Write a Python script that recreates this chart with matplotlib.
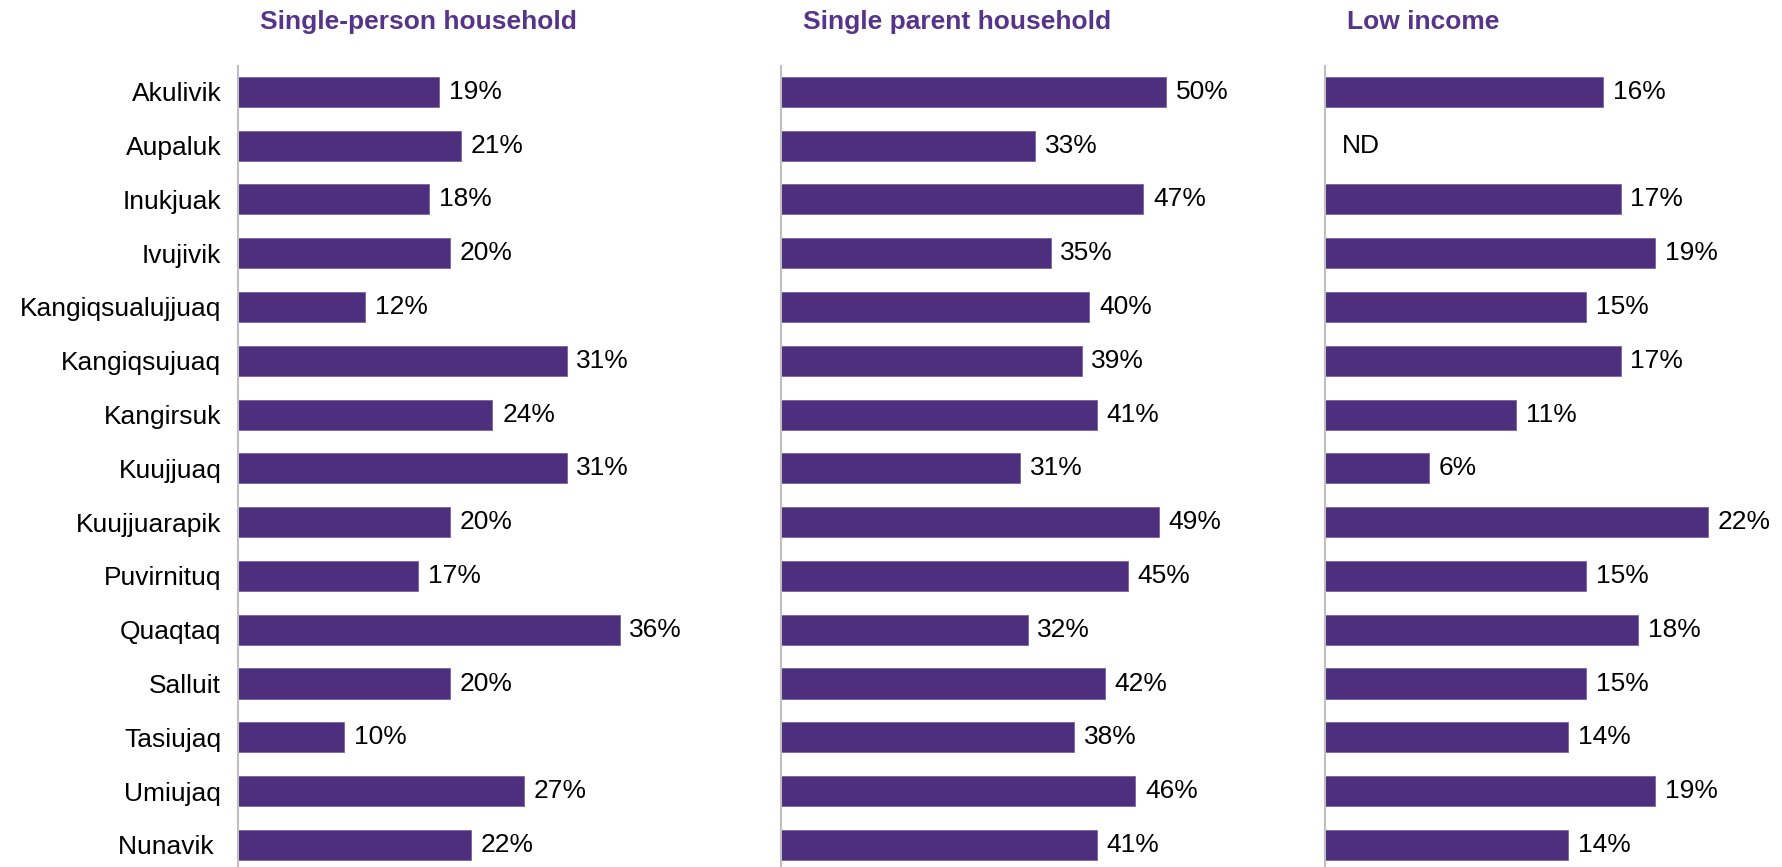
import matplotlib
matplotlib.use("Agg")
import matplotlib.pyplot as plt

plt.rcParams['font.family'] = ['Liberation Sans', 'DejaVu Sans']

communities = ["Akulivik", "Aupaluk", "Inukjuak", "Ivujivik", "Kangiqsualujjuaq",
               "Kangiqsujuaq", "Kangirsuk", "Kuujjuaq", "Kuujjuarapik", "Puvirnituq",
               "Quaqtaq", "Salluit", "Tasiujaq", "Umiujaq", "Nunavik "]
single_person = [19, 21, 18, 20, 12, 31, 24, 31, 20, 17, 36, 20, 10, 27, 22]
single_parent = [50, 33, 47, 35, 40, 39, 41, 31, 49, 45, 32, 42, 38, 46, 41]
low_income = [16, None, 17, 19, 15, 17, 11, 6, 22, 15, 18, 15, 14, 19, 14]
titles = ["Single-person household", "Single parent household", "Low income"]

bar_color = "#4E2F7E"
title_color = "#563489"

W, H = 1783, 867
fig = plt.figure(figsize=(W / 100, H / 100), dpi=100)

# left edge of each panel in pixels, and the x range of each one
lefts = [238, 781, 1325]
xmaxs = [41.5, 57.1, 25.3]
panel_w = 440

for k, (vals, title) in enumerate(zip([single_person, single_parent, low_income], titles)):
    ax = fig.add_axes([lefts[k] / W, 0, panel_w / W, (H - 66) / H])
    ypos = list(range(len(communities)))
    widths = [v if v is not None else 0 for v in vals]
    ax.barh(ypos, widths, height=0.56, color=bar_color, edgecolor="#7B62A3", linewidth=0.6)
    for y, v in zip(ypos, vals):
        txt = "ND" if v is None else f"{v}%"
        off = 12 if v is None else 7
        ax.annotate(txt, (0 if v is None else v, y), xytext=(off, 0), textcoords="offset points",
                    ha="left", va="center", fontsize=19, color="black")
    ax.set_xlim(0, xmaxs[k])
    ax.set_ylim(len(communities) - 1 + 0.41, -0.48)
    for s in ["top", "right", "bottom"]:
        ax.spines[s].set_visible(False)
    ax.spines["left"].set_color("#BFBFBF")
    ax.spines["left"].set_linewidth(1.5)
    ax.set_xticks([])
    ax.set_yticks(ypos)
    if k == 0:
        ax.set_yticklabels(communities, fontsize=19)
        ax.tick_params(axis="y", length=0, pad=12)
    else:
        ax.set_yticklabels([])
        ax.tick_params(axis="y", length=0)
    fig.text((lefts[k] + 22) / W, 1 - 22 / H, title, ha="left", va="center",
             fontsize=19, fontweight="bold", color=title_color)

fig.savefig("out.png", dpi=100)
